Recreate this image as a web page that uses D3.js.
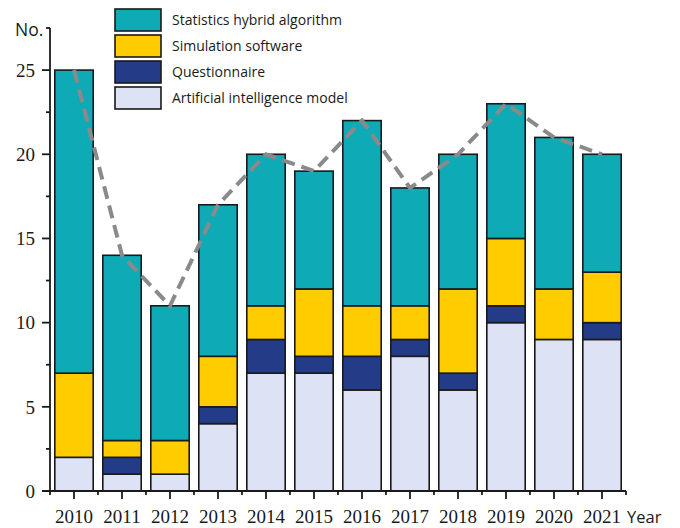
<!DOCTYPE html>
<html>
<head>
<meta charset="utf-8">
<script src="https://cdn.jsdelivr.net/npm/d3@7"></script>
<style>
  body { margin: 0; background: #fff; }
  svg { display: block; }
</style>
</head>
<body>
<svg id="chart" width="680" height="528"></svg>
<script>
// data
const years = ['2010','2011','2012','2013','2014','2015','2016','2017','2018','2019','2020','2021'];
const aiModel    = [2, 1, 1, 4, 7, 7, 6, 8, 6, 10, 9, 9];
const questionn  = [0, 1, 0, 1, 2, 1, 2, 1, 1, 1, 0, 1];
const simulation = [5, 1, 2, 3, 2, 4, 3, 2, 5, 4, 3, 3];
const statistics = [18, 11, 8, 9, 9, 7, 11, 7, 8, 8, 9, 7];
const seriesNames = ['Artificial intelligence model', 'Questionnaire', 'Simulation software', 'Statistics hybrid algorithm'];
const colors = ['#dde2f4', '#243b88', '#ffcc00', '#0eaab6'];
const yTicks = [0, 5, 10, 15, 20, 25];

const table = years.map((y, i) => ({
  year: y,
  [seriesNames[0]]: aiModel[i],
  [seriesNames[1]]: questionn[i],
  [seriesNames[2]]: simulation[i],
  [seriesNames[3]]: statistics[i]
}));
const totals = years.map((y, i) => aiModel[i] + questionn[i] + simulation[i] + statistics[i]);

const svg = d3.select('#chart');
const plot = {left: 50, right: 626, top: 28, bottom: 491};

const x = d3.scaleBand()
    .domain(years)
    .range([plot.left, plot.right])
    .paddingInner(0.2)
    .paddingOuter(0.1);

const y = d3.scaleLinear()
    .domain([0, 27.5])
    .range([plot.bottom, plot.top]);

const stack = d3.stack().keys(seriesNames);
const layers = stack(table);

const ink = '#1a1a1a';

//******** bars ********//
svg.append('g')
  .selectAll('g')
  .data(layers)
  .enter().append('g')
    .attr('fill', (d, i) => colors[i])
  .selectAll('rect')
  .data(d => d.filter(s => s[1] - s[0] > 0))
  .enter().append('rect')
    .attr('x', d => x(d.data.year))
    .attr('y', d => y(d[1]))
    .attr('width', x.bandwidth())
    .attr('height', d => y(d[0]) - y(d[1]))
    .attr('stroke', ink)
    .attr('stroke-width', 1.6);

//******** total line ********//
const line = d3.line()
    .x((d, i) => x(years[i]) + x.bandwidth() / 2)
    .y(d => y(d));

svg.append('path')
    .datum(totals)
    .attr('fill', 'none')
    .attr('stroke', '#8a8a8a')
    .attr('stroke-width', 4)
    .attr('stroke-dasharray', '13,7')
    .attr('d', line);

//******** y axis ********//
const yAxis = svg.append('g')
    .attr('transform', `translate(${plot.left},0)`);

yAxis.append('line')
    .attr('x1', 0).attr('x2', 0)
    .attr('y1', y(27.5)).attr('y2', plot.bottom)
    .attr('stroke', ink).attr('stroke-width', 1.8);

yAxis.selectAll('.major')
    .data(yTicks)
    .enter().append('line')
    .attr('class', 'major')
    .attr('x1', -8).attr('x2', 0)
    .attr('y1', d => y(d)).attr('y2', d => y(d))
    .attr('stroke', ink).attr('stroke-width', 1.8);

yAxis.selectAll('.minor')
    .data(d3.range(2.5, 28, 5))
    .enter().append('line')
    .attr('class', 'minor')
    .attr('x1', -4).attr('x2', 0)
    .attr('y1', d => y(d)).attr('y2', d => y(d))
    .attr('stroke', ink).attr('stroke-width', 1.8);

yAxis.selectAll('text')
    .data(yTicks)
    .enter().append('text')
    .attr('x', -15)
    .attr('y', d => y(d))
    .attr('dy', '0.36em')
    .attr('text-anchor', 'end')
    .attr('font-family', '"Liberation Serif", serif')
    .attr('font-size', 19)
    .attr('fill', ink)
    .text(d => d);

svg.append('text')
    .attr('x', 15).attr('y', 36)
    .attr('font-family', '"Open Sans", sans-serif')
    .attr('font-size', 17.5)
    .attr('fill', ink)
    .text('No.');

//******** x axis ********//
const xAxis = svg.append('g');
xAxis.append('line')
    .attr('x1', plot.left - 8).attr('x2', plot.right)
    .attr('y1', plot.bottom).attr('y2', plot.bottom)
    .attr('stroke', ink).attr('stroke-width', 1.8);

xAxis.selectAll('.major')
    .data(years)
    .enter().append('line')
    .attr('class', 'major')
    .attr('x1', d => x(d) + x.bandwidth() / 2)
    .attr('x2', d => x(d) + x.bandwidth() / 2)
    .attr('y1', plot.bottom).attr('y2', plot.bottom + 8)
    .attr('stroke', ink).attr('stroke-width', 1.8);

xAxis.selectAll('.minor')
    .data(d3.range(years.length + 1))
    .enter().append('line')
    .attr('class', 'minor')
    .attr('x1', i => plot.left + i * x.step())
    .attr('x2', i => plot.left + i * x.step())
    .attr('y1', plot.bottom).attr('y2', plot.bottom + 4)
    .attr('stroke', ink).attr('stroke-width', 1.8);

xAxis.selectAll('text')
    .data(years)
    .enter().append('text')
    .attr('x', d => x(d) + x.bandwidth() / 2)
    .attr('y', 523)
    .attr('text-anchor', 'middle')
    .attr('font-family', '"Liberation Serif", serif')
    .attr('font-size', 19)
    .attr('fill', ink)
    .text(d => d);

svg.append('text')
    .attr('x', 627).attr('y', 523)
    .attr('font-family', '"Open Sans", sans-serif')
    .attr('font-size', 16.5)
    .attr('fill', ink)
    .text('Year');

//******** legend ********//
const legendOrder = [3, 2, 1, 0];
const legend = svg.append('g')
    .attr('transform', 'translate(115,9)');

const item = legend.selectAll('g')
    .data(legendOrder)
    .enter().append('g')
    .attr('transform', (d, i) => `translate(0,${i * 26})`);

item.append('rect')
    .attr('width', 46).attr('height', 22)
    .attr('fill', d => colors[d])
    .attr('stroke', ink)
    .attr('stroke-width', 1.6);

item.append('text')
    .attr('x', 57).attr('y', 11)
    .attr('dy', '0.36em')
    .attr('font-family', '"Open Sans", sans-serif')
    .attr('font-size', 14)
    .attr('fill', ink)
    .text(d => seriesNames[d]);
</script>
</body>
</html>
